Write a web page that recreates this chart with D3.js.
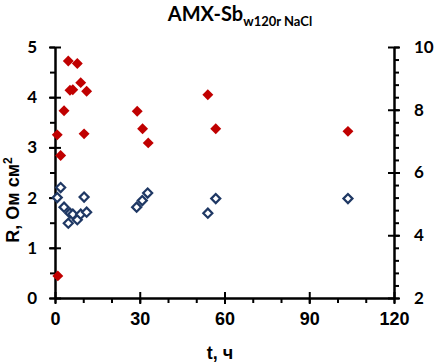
<!DOCTYPE html>
<html lang="ru">
  <head>
    <meta charset="UTF-8">
    <title>AMX-Sb</title>
    <style>
      html, body { margin: 0; padding: 0; background: #fff; }
      svg { display: block; }
      .axis path, .axis line { stroke: #000; stroke-width: 2; }
      .axis text { fill: #000; font-weight: bold; }
      .xaxis text { font-family: 'Liberation Sans', Arial, sans-serif; font-size: 18px; }
      .yaxis text { font-family: Lato, 'Open Sans', sans-serif; font-size: 17px; }
    </style>
  </head>
  <body>
    <script src="https://cdn.jsdelivr.net/npm/d3@7"></script>
    <script>
      // t, ч
      const timeRed = [0.8, 1.0, 2.0, 3.2, 4.7, 5.3, 6.3, 7.9, 9.1, 10.3, 11.2, 29.1, 31.0, 33.0, 54.1, 56.9, 103.7];
      const valuesRed = [3.25, 0.44, 2.84, 3.73, 4.72, 4.14, 4.15, 4.67, 4.29, 3.27, 4.12, 3.72, 3.37, 3.09, 4.05, 3.37, 3.32];
      const timeBlue = [0.8, 2.0, 3.2, 4.7, 5.3, 6.3, 7.9, 9.1, 10.3, 11.2, 28.9, 30.9, 32.8, 54.1, 56.9, 103.7];
      const valuesBlue = [2.00, 2.20, 1.81, 1.49, 1.69, 1.67, 1.56, 1.67, 2.01, 1.71, 1.81, 1.94, 2.09, 1.69, 1.98, 1.98];

      const xTicks = [0, 30, 60, 90, 120];
      const leftTicks = [0, 1, 2, 3, 4, 5];
      const rightTicks = [2, 4, 6, 8, 10];

      const width = 434, height = 363;
      const margin = { left: 55, right: 40, top: 47, bottom: 65 };

      const svg = d3.select('body').append('svg')
        .attr('width', width)
        .attr('height', height);

      const x = d3.scaleLinear().domain([0, 120]).range([margin.left, width - margin.right]);
      const y = d3.scaleLinear().domain([0, 5]).range([height - margin.bottom, margin.top]);
      const y2 = d3.scaleLinear().domain([2, 10]).range([height - margin.bottom, margin.top]);

      const xMinor = d3.range(0, 121, 10);
      const leftMinor = d3.range(0, 5.01, 0.5);
      const rightMinor = d3.range(2, 10.01, 0.4);
      const fmt = d3.format('d');

      // minor ticks (outside)
      svg.append('g').attr('class', 'axis')
        .attr('transform', `translate(0,${y(0)})`)
        .call(d3.axisBottom(x).tickValues(xMinor).tickSize(5).tickSizeOuter(0).tickFormat(''));
      svg.append('g').attr('class', 'axis')
        .attr('transform', `translate(${x(0)},0)`)
        .call(d3.axisLeft(y).tickValues(leftMinor).tickSize(5).tickSizeOuter(0).tickFormat(''));
      svg.append('g').attr('class', 'axis')
        .attr('transform', `translate(${x(120)},0)`)
        .call(d3.axisRight(y2).tickValues(rightMinor).tickSize(5).tickSizeOuter(0).tickFormat(''));

      // major ticks crossing the axis
      svg.append('g').attr('class', 'axis xaxis')
        .attr('transform', `translate(0,${y(0)})`)
        .call(d3.axisBottom(x).tickValues(xTicks).tickSize(6).tickSizeOuter(0).tickPadding(8).tickFormat(fmt))
        .selectAll('.tick line').attr('y1', -6);
      svg.append('g').attr('class', 'axis yaxis')
        .attr('transform', `translate(${x(0)},0)`)
        .call(d3.axisLeft(y).tickValues(leftTicks).tickSize(6).tickSizeOuter(0).tickPadding(12).tickFormat(fmt))
        .selectAll('.tick line').attr('x1', 6);
      svg.append('g').attr('class', 'axis yaxis')
        .attr('transform', `translate(${x(120)},0)`)
        .call(d3.axisRight(y2).tickValues(rightTicks).tickSize(6).tickSizeOuter(0).tickPadding(14).tickFormat(fmt))
        .selectAll('.tick line').attr('x1', -6);

      const diamond = d3.symbol().type(d3.symbolDiamond2);

      svg.append('g')
        .selectAll('path')
        .data(timeBlue.map((t, i) => [t, valuesBlue[i]]))
        .join('path')
        .attr('d', diamond.size(52))
        .attr('transform', d => `translate(${x(d[0])},${y(d[1])})`)
        .attr('fill', '#fff')
        .attr('stroke', '#1f3864')
        .attr('stroke-width', 2.2);

      svg.append('g')
        .selectAll('path')
        .data(timeRed.map((t, i) => [t, valuesRed[i]]))
        .join('path')
        .attr('d', diamond.size(76))
        .attr('transform', d => `translate(${x(d[0])},${y(d[1])})`)
        .attr('fill', '#c00000');

      // title
      const title = svg.append('text')
        .attr('x', 240)
        .attr('y', 21)
        .attr('text-anchor', 'middle')
        .attr('font-family', 'Lato, sans-serif')
        .attr('font-weight', 'bold')
        .attr('font-size', 20);
      title.append('tspan').text('AMX-Sb');
      title.append('tspan').attr('dy', 5).attr('font-size', 13).text('w120r NaCl');

      svg.append('text')
        .attr('x', 220)
        .attr('y', 359)
        .attr('text-anchor', 'middle')
        .attr('font-family', "'Liberation Sans', Arial, sans-serif")
        .attr('font-weight', 'bold')
        .attr('font-size', 18)
        .text('t, ч');

      const yl = svg.append('text')
        .attr('transform', 'translate(19,200) rotate(-90)')
        .attr('text-anchor', 'middle')
        .attr('font-family', "'Liberation Sans', Arial, sans-serif")
        .attr('font-weight', 'bold')
        .attr('font-size', 18);
      yl.append('tspan').text('R, Ом см');
      yl.append('tspan').attr('dy', -7).attr('font-size', 12).text('2');
    </script>
  </body>
</html>
